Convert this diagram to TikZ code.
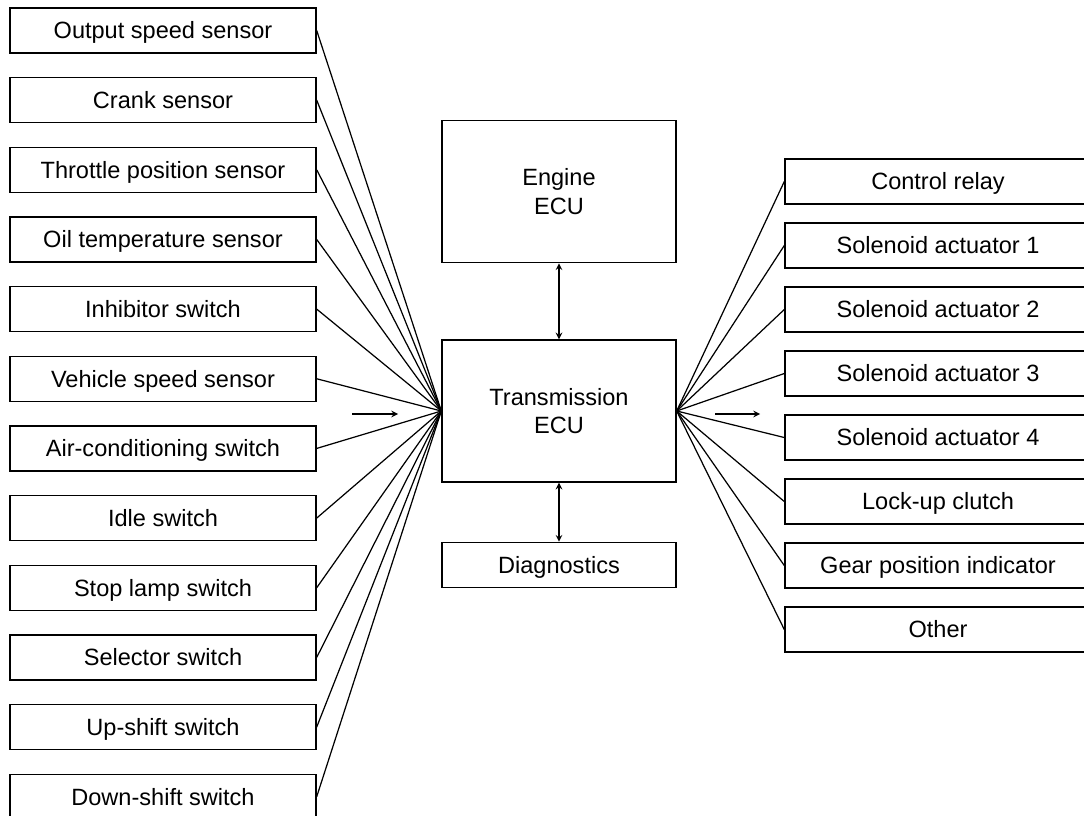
\documentclass[tikz,border=0pt]{standalone}
\usepackage{fontspec}
\setmainfont{Liberation Sans}
\usepackage{tikz}
\usetikzlibrary{positioning}

\begin{document}
\begin{tikzpicture}[
      node distance=0.465cm,
      box/.style={draw, line width=0.8pt, minimum width=6.12cm, minimum height=0.9cm, inner sep=0pt, text height=10pt, text depth=0.4pt, text centered, font=\fontsize{13.4}{16}\selectfont},
      ecu/.style={box, minimum width=4.68cm, minimum height=2.84cm, text height=, text depth=, align=center},
      wire/.style={line width=0.7pt},
      arrow/.style={->, line width=0.7pt, >=stealth},
      dblarrow/.style={<->, line width=0.7pt, >=stealth}
    ]
      \clip (0,0) rectangle (21.68,-16.32);

      % inputs
      \node[box] (outspeed) at (3.26,-0.61) {Output speed sensor};
      \node[box, below=of outspeed] (crank) {Crank sensor};
      \node[box, below=of crank] (throttle) {Throttle position sensor};
      \node[box, below=of throttle] (oiltemp) {Oil temperature sensor};
      \node[box, below=of oiltemp] (inhibitor) {Inhibitor switch};
      \node[box, below=of inhibitor] (vspeed) {Vehicle speed sensor};
      \node[box, below=of vspeed] (aircon) {Air-conditioning switch};
      \node[box, below=of aircon] (idle) {Idle switch};
      \node[box, below=of idle] (stoplamp) {Stop lamp switch};
      \node[box, below=of stoplamp] (selector) {Selector switch};
      \node[box, below=of selector] (upshift) {Up-shift switch};
      \node[box, below=of upshift] (downshift) {Down-shift switch};

      % control units
      \node[ecu] (trans) at (11.18,-8.22) {Transmission\\ECU};
      \node[ecu, above=1.52cm of trans] (engine) {Engine\\ECU};
      \node[box, minimum width=4.68cm, below=1.18cm of trans] (diag) {Diagnostics};

      % outputs
      \node[box] (relay) at (18.76,-3.63) {Control relay};
      \node[box, below=0.352cm of relay] (sol1) {Solenoid actuator 1};
      \node[box, below=0.352cm of sol1] (sol2) {Solenoid actuator 2};
      \node[box, below=0.352cm of sol2] (sol3) {Solenoid actuator 3};
      \node[box, below=0.352cm of sol3] (sol4) {Solenoid actuator 4};
      \node[box, below=0.352cm of sol4] (lockup) {Lock-up clutch};
      \node[box, below=0.352cm of lockup] (gear) {Gear position indicator};
      \node[box, below=0.352cm of gear] (other) {Other};

      \coordinate (inA) at (7.04,-8.28);
      \coordinate (inB) at (7.96,-8.28);
      \coordinate (outA) at (14.3,-8.28);
      \coordinate (outB) at (15.2,-8.28);

      \draw[wire] (outspeed.east) -- (trans.west);
      \draw[wire] (crank.east) -- (trans.west);
      \draw[wire] (throttle.east) -- (trans.west);
      \draw[wire] (oiltemp.east) -- (trans.west);
      \draw[wire] (inhibitor.east) -- (trans.west);
      \draw[wire] (vspeed.east) -- (trans.west);
      \draw[wire] (aircon.east) -- (trans.west);
      \draw[wire] (idle.east) -- (trans.west);
      \draw[wire] (stoplamp.east) -- (trans.west);
      \draw[wire] (selector.east) -- (trans.west);
      \draw[wire] (upshift.east) -- (trans.west);
      \draw[wire] (downshift.east) -- (trans.west);

      \draw[wire] (trans.east) -- (relay.west);
      \draw[wire] (trans.east) -- (sol1.west);
      \draw[wire] (trans.east) -- (sol2.west);
      \draw[wire] (trans.east) -- (sol3.west);
      \draw[wire] (trans.east) -- (sol4.west);
      \draw[wire] (trans.east) -- (lockup.west);
      \draw[wire] (trans.east) -- (gear.west);
      \draw[wire] (trans.east) -- (other.west);

      \draw[dblarrow] (engine) -- (trans);
      \draw[dblarrow] (trans) -- (diag);
      \draw[arrow] (inA) -- (inB);
      \draw[arrow] (outA) -- (outB);
    \end{tikzpicture}
\end{document}
